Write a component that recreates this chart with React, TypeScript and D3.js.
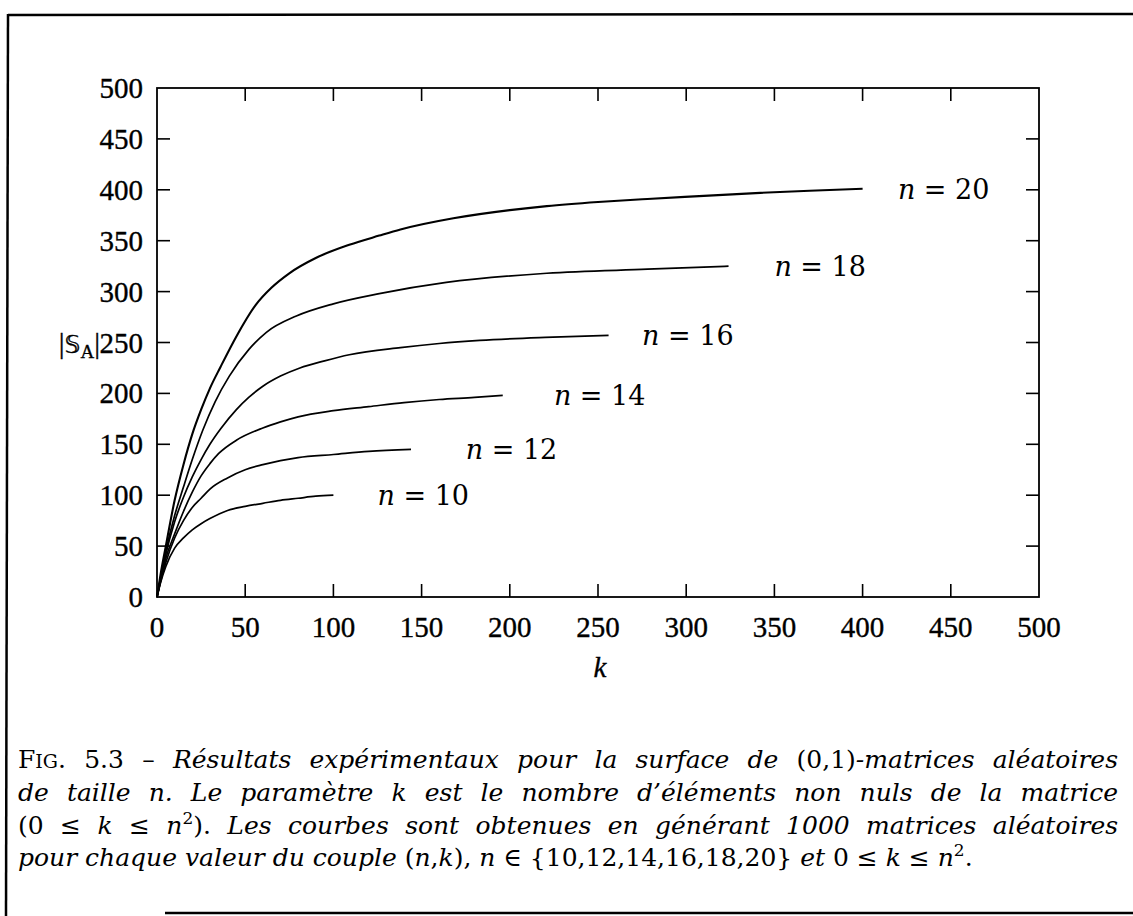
import React, { useEffect, useRef } from 'react';
import * as d3 from 'd3';

// ---- data ----
const X_TICKS = [0, 50, 100, 150, 200, 250, 300, 350, 400, 450, 500];
const Y_TICKS = [0, 50, 100, 150, 200, 250, 300, 350, 400, 450, 500];

const N_VALUES = [10, 12, 14, 16, 18, 20];

const K_N10 = [0, 2, 5, 10, 15, 20, 25, 30, 40, 50, 60, 70, 80, 90, 100];
const S_N10 = [0, 14, 30, 48, 58, 66, 72, 77, 85, 89, 92, 95, 97, 99, 100];

const K_N12 = [0, 2, 5, 10, 15, 20, 25, 30, 40, 50, 60, 70, 80, 100, 120, 144];
const S_N12 = [0, 15, 34, 58, 75, 88, 97, 106, 117, 125, 130, 134, 137, 140, 143, 145];

const K_N14 = [0, 2, 5, 10, 15, 20, 25, 30, 35, 45, 60, 70, 80, 100, 120, 140, 160, 180, 196];
const S_N14 = [0, 16, 38, 62, 84, 103, 119, 131, 141, 154, 166, 172, 177, 183, 187, 191, 194, 196, 198];

const K_N16 = [0, 2, 5, 10, 15, 20, 25, 30, 36, 45, 52, 60, 70, 81, 95, 109, 138, 160, 183, 220, 256];
const S_N16 = [0, 17, 42, 74, 98, 118, 135, 150, 165, 184, 196, 207, 217, 225, 232, 238, 245, 249, 252, 255, 257];

const K_N18 = [0, 2, 5, 10, 15, 20, 26, 33, 41, 52, 62, 79, 100, 126, 164, 221, 278, 324];
const S_N18 = [0, 19, 45, 80, 108, 135, 164, 192, 217, 243, 260, 276, 288, 298, 309, 318, 322, 325];

const K_N20 = [0, 2, 5, 10, 15, 20, 25, 30, 36, 45, 56, 65, 75, 90, 109, 126, 138, 168, 200, 221, 250, 278, 310, 342, 370, 400];
const S_N20 = [0, 22, 50, 95, 130, 160, 184, 205, 226, 256, 287, 304, 318, 333, 346, 355, 361, 372, 380, 384, 388, 391, 394, 397, 399, 401];

const SERIES_K = [K_N10, K_N12, K_N14, K_N16, K_N18, K_N20];
const SERIES_S = [S_N10, S_N12, S_N14, S_N16, S_N18, S_N20];

// label anchors (k position where each "n = .." label starts)
const LABEL_K = [125, 175, 225, 275, 350, 420];

const FONT = '"Liberation Serif", "Times New Roman", serif';
const CAP_FONT = '"DejaVu Serif", serif';

const W = 1133;
const H = 916;

export default function App() {
  const x = d3.scaleLinear().domain([0, 500]).range([157, 1039]);
  const y = d3.scaleLinear().domain([0, 500]).range([597, 88]);
  const line = d3
    .line<[number, number]>()
    .x((d) => x(d[0]))
    .y((d) => y(d[1]))
    .curve(d3.curveMonotoneX);

  const capRefs = [useRef<SVGTextElement>(null), useRef<SVGTextElement>(null), useRef<SVGTextElement>(null)];
  const CAP_LEFT = 18;
  const CAP_RIGHT = 1118;

  useEffect(() => {
    capRefs.forEach((r) => {
      const el = r.current;
      if (!el) return;
      el.setAttribute('word-spacing', '0');
      const len = el.getComputedTextLength();
      const spaces = (el.textContent || '').split(' ').length - 1;
      if (spaces > 0) {
        const extra = (CAP_RIGHT - CAP_LEFT - len) / spaces;
        el.setAttribute('word-spacing', String(extra));
      }
    });
  }, []);

  const tickLen = 13;
  const x0 = x(0), x1 = x(500), y0 = y(0), y1 = y(500);
  const capFs = 25;
  const sup = { dy: -10, fontSize: 17 } as const;
  const ink = { fill: '#000', stroke: '#000', strokeWidth: 0.35 } as const;

  return (
    <svg
      width={W}
      height={H}
      style={{ position: 'absolute', left: 0, top: 0, background: '#fff' }}
      fontFamily={FONT}
    >
      <rect x={0} y={0} width={W} height={H} fill="#fff" />
      {/* outer frame */}
      <line x1={8} y1={15} x2={W} y2={14} stroke="#000" strokeWidth={2.5} />
      <line x1={8} y1={14} x2={6} y2={H} stroke="#000" strokeWidth={2.5} />
      <line x1={165} y1={913} x2={W} y2={913} stroke="#000" strokeWidth={2.5} />

      {/* plot box */}
      <rect x={x0} y={y1} width={x1 - x0} height={y0 - y1} fill="none" stroke="#000" strokeWidth={1.8} />
      {X_TICKS.map((t) => (
        <g key={'xt' + t}>
          {t > 0 && t < 500 && (
            <>
              <line x1={x(t)} x2={x(t)} y1={y0} y2={y0 - tickLen} stroke="#000" strokeWidth={1.6} />
              <line x1={x(t)} x2={x(t)} y1={y1} y2={y1 + tickLen} stroke="#000" strokeWidth={1.6} />
            </>
          )}
          <text x={x(t)} y={y0 + 40} textAnchor="middle" fontSize={29} {...ink}>
            {t}
          </text>
        </g>
      ))}
      {Y_TICKS.map((t) => (
        <g key={'yt' + t}>
          {t > 0 && t < 500 && (
            <>
              <line x1={x0} x2={x0 + tickLen} y1={y(t)} y2={y(t)} stroke="#000" strokeWidth={1.6} />
              <line x1={x1} x2={x1 - tickLen} y1={y(t)} y2={y(t)} stroke="#000" strokeWidth={1.6} />
            </>
          )}
          <text x={143} y={y(t) + 10} textAnchor="end" fontSize={29} {...ink}>
            {t}
          </text>
        </g>
      ))}

      {/* axis labels */}
      <text x={x(250) + 2} y={677} textAnchor="middle" fontSize={29} fontStyle="italic" {...ink}>
        k
      </text>
      <text x={100} y={y(250) + 10} textAnchor="end" fontSize={29} {...ink}>
        <tspan>|</tspan>
        <tspan fontFamily='"DejaVu Sans", "DejaVu Serif", serif' fontSize={25}>𝕊</tspan>
        <tspan fontSize={19} dy={5}>A</tspan>
        <tspan dy={-5}>|</tspan>
      </text>

      {/* curves */}
      {SERIES_K.map((ks, i) => {
        const pts = ks.map((k, j) => [k, SERIES_S[i][j]] as [number, number]);
        return (
          <path
            key={'c' + i}
            d={line(pts) || ''}
            fill="none"
            stroke="#000"
            strokeWidth={i === 5 ? 2.1 : 1.7}
            strokeLinejoin="round"
          />
        );
      })}

      {/* curve labels */}
      {N_VALUES.map((n, i) => {
        const s = SERIES_S[i];
        return (
          <text
            key={'l' + n}
            x={x(LABEL_K[i])}
            y={y(s[s.length - 1]) + 10}
            fontSize={27}
            fontFamily={CAP_FONT}
            fill="#000"
          >
            <tspan fontStyle="italic">n</tspan>
            <tspan> = {n}</tspan>
          </text>
        );
      })}

      {/* caption */}
      <g fontFamily={CAP_FONT} fill="#000">
        <text ref={capRefs[0]} x={CAP_LEFT} y={768} fontSize={capFs}>
          <tspan>F</tspan>
          <tspan fontSize={19}>IG</tspan>
          <tspan>. 5.3 – </tspan>
          <tspan fontStyle="italic">Résultats expérimentaux pour la surface de </tspan>
          <tspan>(0,1)</tspan>
          <tspan fontStyle="italic">-matrices aléatoires</tspan>
        </text>
        <text ref={capRefs[1]} x={CAP_LEFT} y={801} fontSize={capFs} fontStyle="italic">
          de taille n. Le paramètre k est le nombre d’éléments non nuls de la matrice
        </text>
        <text ref={capRefs[2]} x={CAP_LEFT} y={834} fontSize={capFs}>
          <tspan>(0 ≤ </tspan>
          <tspan fontStyle="italic">k</tspan>
          <tspan> ≤ </tspan>
          <tspan fontStyle="italic">n</tspan>
          <tspan dy={sup.dy} fontSize={sup.fontSize}>2</tspan>
          <tspan dy={-sup.dy}>).</tspan>
          <tspan fontStyle="italic"> Les courbes sont obtenues en générant 1000 matrices aléatoires</tspan>
        </text>
        <text x={CAP_LEFT} y={866} fontSize={capFs}>
          <tspan fontStyle="italic">pour chaque valeur du couple </tspan>
          <tspan>(</tspan>
          <tspan fontStyle="italic">n</tspan>
          <tspan>,</tspan>
          <tspan fontStyle="italic">k</tspan>
          <tspan>), </tspan>
          <tspan fontStyle="italic">n</tspan>
          <tspan> ∈ {'{'}10,12,14,16,18,20{'}'} </tspan>
          <tspan fontStyle="italic"> et </tspan>
          <tspan>0 ≤ </tspan>
          <tspan fontStyle="italic">k</tspan>
          <tspan> ≤ </tspan>
          <tspan fontStyle="italic">n</tspan>
          <tspan dy={sup.dy} fontSize={sup.fontSize}>2</tspan>
          <tspan dy={-sup.dy}>.</tspan>
        </text>
      </g>
    </svg>
  );
}
